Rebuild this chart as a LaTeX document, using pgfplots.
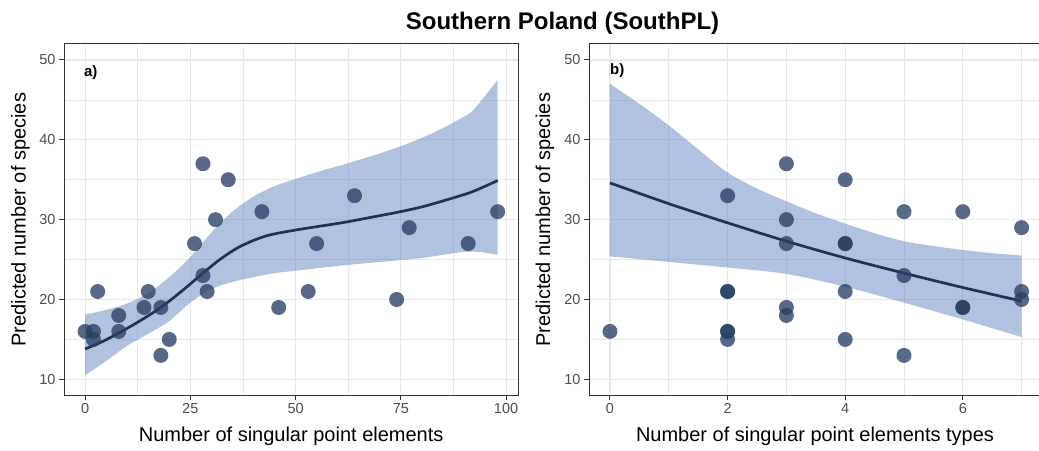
\documentclass[border=0pt]{standalone}
\usepackage{fontspec}
\setmainfont{Liberation Sans}
\usepackage{pgfplots}
\pgfplotsset{compat=1.18}
\usepgfplotslibrary{fillbetween}

\definecolor{ribbonbase}{RGB}{70,110,180}
\definecolor{fitline}{RGB}{28,51,87}
\definecolor{dots}{RGB}{40,63,100}
\definecolor{gridgrey}{RGB}{232,232,232}
\definecolor{framegrey}{RGB}{51,51,51}
\definecolor{tickgrey}{RGB}{77,77,77}

\pgfplotsset{
  panel/.style={
    scale only axis,
    height=351.3pt,
    ymin=8, ymax=52,
    ytick={10,20,30,40,50},
    minor ytick={15,25,35,45},
    grid=both,
    major grid style={gridgrey, line width=1.1pt},
    minor grid style={gridgrey, line width=0.6pt},
    axis line style={framegrey, line width=1pt},
    tick style={framegrey, line width=1pt},
    tick align=outside,
    major tick length=5pt,
    minor tick length=0pt,
    tick pos=left,
    ticklabel style={font=\fontsize{14.5}{16}\selectfont, text=tickgrey},
    /pgf/number format/assume math mode=true,
    every axis x label/.style={at={(axis description cs:0.5,0)}, anchor=base,
      yshift=-46.4pt, font=\fontsize{20}{22}\selectfont},
    ylabel={Predicted number of species},
  },
  ylabelat/.style={every axis y label/.style={at={(axis description cs:#1,0.5)},
    rotate=90, anchor=center, font=\fontsize{20}{22}\selectfont}},
  dotstyle/.style={only marks, mark=*, mark size=7.5pt,
    mark options={fill=dots, draw=dots, fill opacity=0.78, draw opacity=0}},
  ribbonfill/.style={fill=ribbonbase, fill opacity=0.42, draw=none},
  fitstyle/.style={fitline, line width=2.7pt, smooth, no marks},
}

\begin{document}
\begin{tikzpicture}

\node[anchor=base, font=\fontsize{24}{26}\selectfont\bfseries] at (562.5pt,420pt) {Southern Poland (SouthPL)};

% a) species vs number of singular point elements
\begin{axis}[panel,
  at={(64pt,54.7pt)}, anchor=south west,
  width=454.3pt,
  xmin=-5, xmax=102.9,
  xtick={0,25,50,75,100},
  minor xtick={12.5,37.5,62.5,87.5},
  xlabel={Number of singular point elements},
  ylabelat=-0.0957,
]
\addplot[draw=none, smooth, name path=upA] coordinates {
  (0,18.1) (5,18.7) (10,19.5) (15,20.8) (20,22.8) (25,25.3) (30,28.4)
  (35,31.0) (40,32.9) (45,34.2) (50,35.1) (56,36.1) (62,37.0) (70,38.3)
  (77,39.6) (84,41.2) (90,42.9) (92,43.6) (95,45.5) (98,47.5)};
\addplot[draw=none, smooth, name path=loA] coordinates {
  (0,10.5) (5,12.3) (10,14.2) (15,15.7) (20,17.3) (25,19.6) (30,21.3)
  (35,22.2) (40,22.8) (45,23.3) (50,23.6) (60,24.2) (70,24.7) (80,25.2)
  (91,26.0) (98,25.6)};
\addplot[ribbonfill] fill between[of=upA and loA];
\addplot[fitstyle] coordinates {
  (0,13.8) (4,14.7) (8,15.8) (12,17.0) (16,18.3) (20,19.8) (24,21.5)
  (28,23.3) (32,25.0) (36,26.4) (40,27.4) (44,28.1) (50,28.7) (56,29.2)
  (62,29.7) (68,30.3) (74,30.9) (80,31.6) (86,32.5) (92,33.5) (98,34.9)};
\addplot[dotstyle] coordinates {
  (0,16) (2,16) (2,15) (3,21) (8,18) (8,16) (14,19) (15,21) (18,19)
  (18,13) (20,15) (26,27) (28,37) (28,23) (29,21) (31,30) (34,35)
  (42,31) (46,19) (53,21) (55,27) (64,33) (74,20) (77,29) (91,27) (98,31)};
\node[anchor=base west, font=\fontsize{15}{17}\selectfont\bfseries]
  at (rel axis cs:0,1) [xshift=16.5pt, yshift=-32.5pt] {a)};
\end{axis}

% b) species vs number of singular point element types
\begin{axis}[panel,
  at={(589pt,54.7pt)}, anchor=south west,
  width=452pt,
  xmin=-0.357, xmax=7.33,
  xtick={0,2,4,6},
  minor xtick={1,3,5,7},
  xlabel={Number of singular point elements types},
  ylabelat=-0.0973,
]
\addplot[draw=none, smooth, name path=upB] coordinates {
  (0,47.0) (0.5,44.5) (1,41.8) (1.5,38.8) (2,35.9) (2.5,33.9) (3,32.3)
  (3.5,30.8) (4,29.5) (4.5,28.3) (5,27.3) (5.5,26.7) (6,26.2) (6.5,25.8) (7,25.5)};
\addplot[draw=none, smooth, name path=loB] coordinates {
  (0,25.4) (1,24.7) (2,24.0) (3,23.2) (4,21.6) (5,19.6) (6,17.5) (7,15.3)};
\addplot[ribbonfill] fill between[of=upB and loB];
\addplot[fitstyle] coordinates {
  (0,34.6) (1,32.0) (2,29.6) (3,27.3) (4,25.2) (5,23.3) (6,21.5) (7,19.8)};
\addplot[dotstyle] coordinates {
  (0,16) (2,33) (2,21) (2,21) (2,16) (2,16) (2,15) (3,37) (3,30) (3,27)
  (3,19) (3,18) (4,35) (4,27) (4,27) (4,21) (4,15) (5,31) (5,23) (5,13)
  (6,31) (6,19) (6,19) (7,29) (7,21) (7,20)};
\node[anchor=base west, font=\fontsize{15}{17}\selectfont\bfseries]
  at (rel axis cs:0,1) [xshift=17.7pt, yshift=-30pt] {b)};
\end{axis}

% fixed page frame
\pgfresetboundingbox
\useasboundingbox (0pt,0pt) rectangle (1039pt,450pt);
\end{tikzpicture}
\end{document}
